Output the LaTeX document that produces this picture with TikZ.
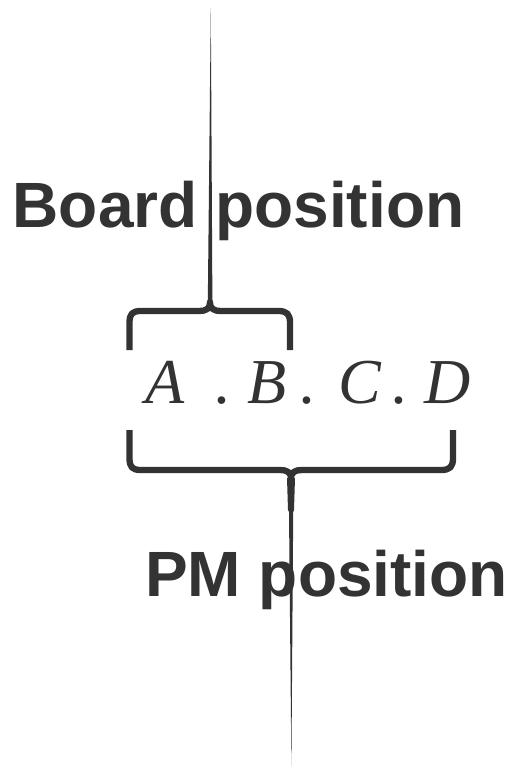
\documentclass[tikz,border=0pt]{standalone}
\usepackage{fontspec}
\usepackage{xcolor}
\usepackage{tikz}
\newfontfamily\labelfont{Liberation Sans}
\newfontfamily\letterfont{Liberation Serif}
\definecolor{figgray}{HTML}{333333}
\tikzset{every picture/.append style={font=\labelfont}}

\begin{document}
\begin{tikzpicture}[x=1pt,y=-1pt,
    bracket/.style={figgray,line width=6.3pt,line join=round},
    lbl/.style={figgray,anchor=base,inner sep=0pt,font=\labelfont\bfseries\fontsize{64}{72}\selectfont},
    letter/.style={figgray,anchor=base,inner sep=0pt,font=\letterfont\itshape\fontsize{64}{72}\selectfont}]
    \useasboundingbox (0,0) rectangle (513,770);
    % tips of the two braces
    \coordinate (uptip) at (210,302);
    \coordinate (lowtip) at (291,479);
    % stems
    \fill[figgray] (207.8,303) -- (212.4,303) -- (210.8,8) -- cycle;
    \fill[figgray] (287,478) -- (295,478) -- (294,510) -- (293.2,512) -- (291.4,766) -- (289,512) -- (288,510) -- cycle;
    % upper brace
    \draw[bracket] (129.5,350) -- (129.5,323) .. controls (129.5,314) and (132,311) .. (141,311) -- (199,311)
      .. controls (206,311) and (210,309) .. (uptip) .. controls (210,309) and (214,311) .. (221,311)
      -- (278,311) .. controls (287,311) and (290,314) .. (290,323) -- (290,350);
    % lower brace
    \draw[bracket] (129.5,430) -- (129.5,458) .. controls (129.5,467) and (132,470) .. (141,470) -- (280,470)
      .. controls (287,470) and (291,472) .. (lowtip) .. controls (291,472) and (295,470) .. (302,470)
      -- (441,470) .. controls (450,470) and (453,467) .. (453,458) -- (453,430);
    % labels
    \node[lbl] (board) at (238.5,227) {Board position};
    \node[lbl] (pm) at (326.5,596) {PM position};
    % the dotted address
    \node[letter] (a) at (165,403) {A};
    \node[letter] (dota) at (223,403) {.};
    \node[letter] (b) at (267,403) {B};
    \node[letter] (dotb) at (308,403) {.};
    \node[letter] (c) at (360,403) {C};
    \node[letter] (dotc) at (400,403) {.};
    \node[letter] (d) at (448,403) {D};
  \end{tikzpicture}
\end{document}
